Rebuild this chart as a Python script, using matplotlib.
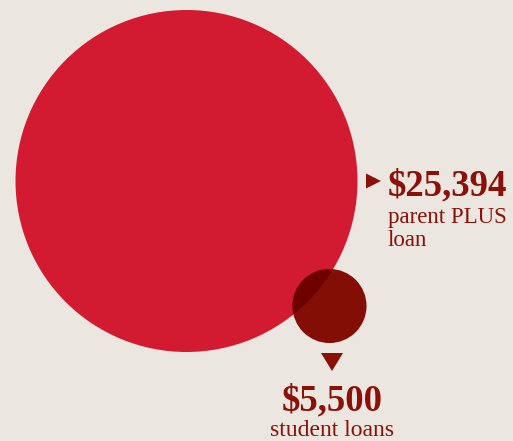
import matplotlib
matplotlib.use("Agg")
import matplotlib.pyplot as plt
from matplotlib.patches import Circle, Polygon

# loan amounts
values = [25394, 5500]
amount_labels = ["$25,394", "$5,500"]
desc_labels = ["parent PLUS\nloan", "student loans"]

bg = "#ebe6df"
text_col = "#8b1008"

fig = plt.figure(figsize=(5.13, 4.41), dpi=100)
fig.patch.set_facecolor(bg)
ax = fig.add_axes([0, 0, 1, 1])
ax.set_xlim(0, 513)
ax.set_ylim(441, 0)
ax.set_aspect("equal")
ax.axis("off")

scale = 171 / max(values)  # radius proportional to value
r_big = values[0] * scale
r_small = values[1] * scale

big = Circle((186.5, 181), r_big, color="#d21a31", lw=0)
ax.add_patch(big)
ax.add_patch(Circle((329.5, 306), r_small, color="#820e06", lw=0))
# darker where the two overlap
overlap = Circle((329.5, 306), r_small, color="#6e0000", lw=0)
ax.add_patch(overlap)
overlap.set_clip_path(big)

# pointers
ax.add_patch(Polygon([(366, 173.5), (366, 188.5), (381, 181)], color=text_col, lw=0))
ax.add_patch(Polygon([(321, 353), (343, 353), (332, 371)], color=text_col, lw=0))

serif = ["Liberation Serif", "DejaVu Serif"]
ax.text(388, 195, amount_labels[0], fontsize=26.5, fontweight="bold", color=text_col,
        family=serif, va="baseline", ha="left")
ax.text(388, 223, desc_labels[0].split("\n")[0], fontsize=16.5, color=text_col,
        family=serif, va="baseline", ha="left")
ax.text(388, 246, desc_labels[0].split("\n")[1], fontsize=16.5, color=text_col,
        family=serif, va="baseline", ha="left")

ax.text(332, 410, amount_labels[1], fontsize=26.5, fontweight="bold", color=text_col,
        family=serif, va="baseline", ha="center")
ax.text(332, 436, desc_labels[1], fontsize=17, color=text_col,
        family=serif, va="baseline", ha="center")

fig.savefig("out.png", dpi=100, facecolor=bg)
